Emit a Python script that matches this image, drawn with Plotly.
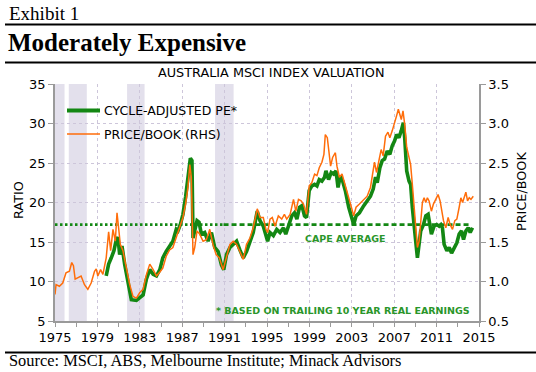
import plotly.graph_objects as go

# ---------------- data ----------------
pe_years = [1979.83, 1980.06, 1980.31, 1980.56, 1980.78, 1980.94, 1981.10, 1981.32, 1981.57, 1981.89,
            1982.20, 1982.68, 1983.00, 1983.31, 1983.62, 1983.94, 1984.26, 1984.57, 1984.89,
            1985.17, 1985.49, 1985.81, 1986.12, 1986.44, 1986.60, 1986.82, 1987.07, 1987.32, 1987.54,
            1987.77, 1987.92, 1988.02, 1988.18, 1988.40, 1988.59, 1988.81, 1989.12, 1989.44, 1989.76,
            1990.07, 1990.39, 1990.70, 1990.92, 1991.18, 1991.50, 1991.81, 1992.13, 1992.44, 1992.76,
            1993.07, 1993.39, 1993.70, 1994.08, 1994.34, 1994.65, 1994.90,
            1995.06, 1995.28, 1995.60, 1995.92, 1996.23, 1996.55, 1996.77, 1997.02, 1997.34, 1997.60,
            1997.82, 1998.07, 1998.29, 1998.54, 1998.73, 1998.98, 1999.23, 1999.49, 1999.71, 1999.93,
            2000.18, 2000.43, 2000.56, 2000.81, 2001.06, 2001.29, 2001.51, 2001.70, 2001.92, 2002.14,
            2002.39, 2002.71, 2002.96, 2003.18, 2003.40, 2003.72, 2004.13, 2004.45, 2004.76,
            2005.02, 2005.24, 2005.40, 2005.65, 2005.87, 2006.09, 2006.34, 2006.59, 2006.82, 2007.04,
            2007.23, 2007.45, 2007.67, 2007.86, 2007.99, 2008.18, 2008.40, 2008.55, 2008.71, 2008.87,
            2009.03, 2009.19, 2009.35, 2009.50, 2009.76, 2009.98, 2010.20, 2010.39, 2010.51, 2010.76,
            2011.02, 2011.24, 2011.40, 2011.55, 2011.71, 2011.97, 2012.19, 2012.41, 2012.66, 2012.91,
            2013.13, 2013.35, 2013.54, 2013.76, 2013.98, 2014.17, 2014.39]
pe_values = [10.7, 12.2, 13.0, 13.9, 15.3, 15.6, 13.4, 14.5, 12.2, 9.6,
             7.7, 7.6, 7.9, 8.3, 10.3, 11.5, 10.9, 10.7, 11.5,
             13.0, 13.8, 14.5, 15.1, 16.6, 16.4, 17.2, 18.5, 20.7, 23.2,
             25.6, 25.3, 15.5, 16.4, 17.7, 17.5, 16.0, 16.2, 15.1, 16.2,
             14.3, 13.8, 12.1, 11.5, 13.4, 14.3, 14.7, 15.1, 14.0, 13.0,
             13.8, 15.1, 16.2, 18.9, 17.7, 17.0, 15.8,
             15.1, 16.2, 15.8, 16.6, 16.2, 16.8, 16.0, 17.0, 18.3, 18.7,
             17.9, 19.4, 19.6, 18.3, 18.1, 21.5, 22.1, 22.3, 22.1, 22.9,
             22.7, 23.2, 24.0, 22.9, 23.8, 23.6, 24.0, 21.9, 23.4, 22.7,
             21.5, 19.4, 18.3, 17.2, 18.3, 18.7, 19.6, 20.2, 20.8,
             21.7, 23.2, 22.5, 24.4, 25.3, 25.5, 26.5, 26.1, 27.2, 27.8,
             28.6, 28.2, 29.1, 30.1, 28.2, 24.0, 22.7, 22.3, 19.4, 16.8,
             15.1, 13.0, 14.7, 16.4, 17.2, 18.3, 18.5, 17.2, 16.0, 17.0,
             17.2, 17.0, 17.2, 16.8, 14.7, 13.9, 14.3, 13.6, 14.3, 14.9,
             16.0, 16.4, 15.3, 16.4, 16.8, 16.2, 16.8]

pb_years = [1975.00, 1975.10, 1975.41, 1975.73, 1976.04, 1976.36, 1976.58, 1976.74, 1976.90, 1977.15,
            1977.46, 1977.78, 1978.10, 1978.41, 1978.73, 1978.89, 1979.04, 1979.30, 1979.52, 1979.83,
            1980.06, 1980.25, 1980.47, 1980.69, 1980.85, 1981.00, 1981.16, 1981.41, 1981.73, 1982.05,
            1982.36, 1982.68, 1983.00, 1983.31, 1983.63, 1983.94, 1984.26, 1984.57, 1984.89,
            1985.17, 1985.49, 1985.81, 1986.12, 1986.44, 1986.75, 1987.07, 1987.32, 1987.54, 1987.72,
            1987.86, 1988.02, 1988.18, 1988.40, 1988.65, 1988.97, 1989.28, 1989.60, 1989.90, 1990.20,
            1990.50, 1990.86, 1991.18, 1991.50, 1991.81, 1992.13, 1992.44, 1992.76, 1993.07, 1993.39,
            1993.70, 1994.08, 1994.34, 1994.65, 1994.90,
            1995.06, 1995.28, 1995.50, 1995.76, 1996.07, 1996.39, 1996.64, 1996.86, 1997.18, 1997.50,
            1997.72, 1997.97, 1998.22, 1998.44, 1998.73, 1998.98, 1999.23, 1999.49, 1999.71, 1999.93,
            2000.18, 2000.37, 2000.50, 2000.69, 2000.81, 2001.00, 2001.19, 2001.45, 2001.60, 2001.83,
            2002.08, 2002.33, 2002.65, 2002.96, 2003.18, 2003.40, 2003.72, 2004.13, 2004.45, 2004.76,
            2005.02, 2005.14, 2005.33, 2005.55, 2005.77, 2005.96, 2006.18, 2006.41, 2006.59, 2006.82,
            2007.04, 2007.23, 2007.39, 2007.54, 2007.67, 2007.83, 2007.99, 2008.18, 2008.40, 2008.55,
            2008.71, 2008.87, 2009.03, 2009.19, 2009.35, 2009.50, 2009.66, 2009.82, 2009.98, 2010.13,
            2010.29, 2010.51, 2010.70, 2010.92, 2011.14, 2011.33, 2011.49, 2011.65, 2011.87, 2012.09,
            2012.28, 2012.50, 2012.72, 2012.91, 2013.13, 2013.29, 2013.45, 2013.61, 2013.76, 2013.92,
            2014.08, 2014.24, 2014.46]
pb_values = [0.835, 0.96, 0.94, 0.98, 1.11, 1.13, 1.24, 1.20, 1.03, 1.05,
             1.07, 0.96, 0.90, 0.98, 1.13, 1.16, 1.07, 1.15, 1.09, 1.30,
             1.63, 1.39, 1.66, 1.51, 1.87, 1.68, 1.47, 1.39, 1.17, 0.96,
             0.81, 0.79, 0.86, 0.90, 1.09, 1.22, 1.15, 1.07, 1.12,
             1.17, 1.32, 1.40, 1.43, 1.55, 1.68, 1.81, 1.98, 2.19, 2.48,
             2.32, 1.34, 1.43, 1.64, 1.60, 1.51, 1.53, 1.66, 1.47, 1.34,
             1.30, 1.15, 1.30, 1.47, 1.51, 1.47, 1.38, 1.28, 1.47, 1.55,
             1.68, 1.92, 1.81, 1.81, 1.66,
             1.62, 1.79, 1.81, 1.70, 1.83, 1.79, 1.85, 1.79, 1.85, 2.04,
             1.89, 2.04, 2.02, 1.98, 1.85, 2.21, 2.25, 2.36, 2.34, 2.44,
             2.51, 2.61, 2.86, 2.82, 2.65, 2.46, 2.57, 2.63, 2.46, 2.32,
             2.36, 2.23, 2.10, 1.94, 1.83, 1.94, 1.98, 2.04, 2.08, 2.19,
             2.44, 2.51, 2.38, 2.55, 2.67, 2.59, 2.84, 2.89, 2.82, 2.91,
             3.03, 3.10, 3.18, 3.12, 3.05, 3.16, 2.99, 2.70, 2.57, 2.48,
             2.23, 1.94, 1.68, 1.43, 1.51, 1.77, 2.00, 2.06, 2.00, 2.06,
             2.02, 1.89, 1.98, 2.04, 2.10, 2.02, 1.91, 1.77, 1.68, 1.81,
             1.72, 1.66, 1.77, 1.79, 1.94, 2.06, 2.00, 2.08, 2.13, 2.02,
             2.06, 2.04, 2.08]

recession_start = [1975.0, 1976.3, 1981.8, 1990.1]
recession_end = [1975.9, 1978.0, 1983.45, 1991.85]

cape_average = 17.2
cape_dotted_span = [1975.0, 1990.9]
cape_dashed_span = [1990.9, 2014.2]

x_ticks = list(range(1975, 2016, 4))
x_tick_labels = [str(t) for t in x_ticks]

# ---------------- styling ----------------
GREEN = "#138713"
ORANGE = "#ff6d0a"
NOTE_GREEN = "#2a962a"
GRID = "#cdc6da"
SHADE = "#e3e0ec"
AXIS = "#9a9a9a"
SANS = "DejaVu Sans"
SERIF = "Liberation Serif"

W, H = 536, 372
L, R, T, B = 55, 479, 84, 321


def px(x):
    return (x - L) / (R - L)


def py(y):
    return (B - y) / (B - T)


fig = go.Figure()

fig.add_trace(go.Scatter(x=pe_years, y=pe_values, mode="lines", name="CYCLE-ADJUSTED PE*",
                         line=dict(color=GREEN, width=3.6), yaxis="y", showlegend=False))
fig.add_trace(go.Scatter(x=cape_dotted_span, y=[cape_average] * 2, mode="lines",
                         line=dict(color=GREEN, width=2.6, dash="2.5px,2.5px"),
                         showlegend=False, hoverinfo="skip"))
fig.add_trace(go.Scatter(x=cape_dashed_span, y=[cape_average] * 2, mode="lines",
                         line=dict(color=GREEN, width=2.6, dash="5px,3px"),
                         showlegend=False, hoverinfo="skip"))
fig.add_trace(go.Scatter(x=pb_years, y=pb_values, mode="lines", name="PRICE/BOOK (RHS)",
                         line=dict(color=ORANGE, width=1.5), yaxis="y2", showlegend=False))

shapes = []
for s, e in zip(recession_start, recession_end):
    shapes.append(dict(type="rect", xref="x", yref="paper", x0=s, x1=e, y0=0, y1=1,
                       fillcolor=SHADE, line=dict(width=0), layer="below"))
for yy in (24.5, 62.5, 352.5):
    shapes.append(dict(type="line", xref="paper", yref="paper", x0=px(5), x1=px(536),
                       y0=py(yy), y1=py(yy), line=dict(color="black", width=2.2)))
# legend samples
shapes.append(dict(type="line", xref="paper", yref="paper", x0=px(67), x1=px(100),
                   y0=py(110.5), y1=py(110.5), line=dict(color=GREEN, width=4)))
shapes.append(dict(type="line", xref="paper", yref="paper", x0=px(67), x1=px(100),
                   y0=py(134), y1=py(134), line=dict(color=ORANGE, width=1.6)))

annotations = [
    dict(text="Exhibit 1", x=px(7), y=py(13), xanchor="left", yanchor="middle",
         font=dict(family=SERIF, size=19, color="black")),
    dict(text="<b>Moderately Expensive</b>", x=px(6), y=py(43), xanchor="left", yanchor="middle",
         font=dict(family=SERIF, size=25, color="black")),
    dict(text="AUSTRALIA MSCI INDEX VALUATION", x=px(271), y=py(73), xanchor="center",
         yanchor="middle", font=dict(family=SANS, size=12.8, color="black")),
    dict(text="RATIO", x=px(18), y=py(200), textangle=-90, xanchor="center", yanchor="middle",
         font=dict(family=SANS, size=12.8, color="black")),
    dict(text="PRICE/BOOK", x=px(521), y=py(192), textangle=-90, xanchor="center",
         yanchor="middle", font=dict(family=SANS, size=12.8, color="black")),
    dict(text="Source: MSCI, ABS, Melbourne Institute; Minack Advisors", x=px(7), y=py(371.5),
         xanchor="left", yanchor="bottom", font=dict(family=SERIF, size=16.4, color="black")),
    dict(text="CYCLE-ADJUSTED PE*", x=px(102), y=py(110.5), xanchor="left", yanchor="middle",
         font=dict(family=SANS, size=12.5, color="black")),
    dict(text="PRICE/BOOK (RHS)", x=px(102), y=py(134), xanchor="left", yanchor="middle",
         font=dict(family=SANS, size=12.5, color="black")),
    dict(text="<b>CAPE AVERAGE</b>", x=px(345), y=py(238), xanchor="center", yanchor="middle",
         font=dict(family=SANS, size=9.5, color=NOTE_GREEN)),
    dict(text="<b>* BASED ON TRAILING 10 YEAR REAL EARNINGS</b>", x=px(472), y=py(310),
         xanchor="right", yanchor="middle", font=dict(family=SANS, size=9.5, color=NOTE_GREEN)),
]
for a in annotations:
    a.setdefault("xref", "paper")
    a.setdefault("yref", "paper")
    a.setdefault("showarrow", False)

tick_font = dict(family=SANS, size=13, color="black")

fig.update_layout(
    width=W, height=H,
    margin=dict(l=L, r=W - R, t=T, b=H - B, pad=0),
    paper_bgcolor="white", plot_bgcolor="white",
    showlegend=False,
    font=dict(family=SANS, size=12, color="black"),
    xaxis=dict(range=[1975, 2015], tickmode="array", tickvals=x_ticks, ticktext=x_tick_labels,
               ticks="outside", ticklen=4, tickcolor=AXIS, showline=True, linecolor=AXIS,
               linewidth=1.5, showgrid=True, gridcolor=GRID, griddash="dot", gridwidth=1,
               zeroline=False, tickfont=tick_font,
               minor=dict(tickmode="linear", tick0=1977, dtick=4, ticks="outside", ticklen=4,
                          tickcolor=AXIS, showgrid=False)),
    yaxis=dict(range=[5, 35], tickmode="linear", tick0=5, dtick=5, ticks="outside", ticklen=5,
               tickcolor=AXIS, showline=True, linecolor=AXIS, linewidth=1.5, showgrid=True,
               gridcolor=GRID, griddash="dot", gridwidth=1, zeroline=False,
               tickfont=tick_font),
    yaxis2=dict(range=[0.5, 3.5], tickmode="linear", tick0=0.5, dtick=0.5, tickformat=".1f",
                overlaying="y", side="right", ticks="outside", ticklen=5, tickcolor=AXIS,
                showline=True, linecolor=AXIS, linewidth=1.5, showgrid=False, zeroline=False,
                tickfont=tick_font),
    shapes=shapes,
    annotations=annotations,
)

fig.write_html("out.html", config={"displayModeBar": False},
               post_script="document.body.style.margin='0';")
